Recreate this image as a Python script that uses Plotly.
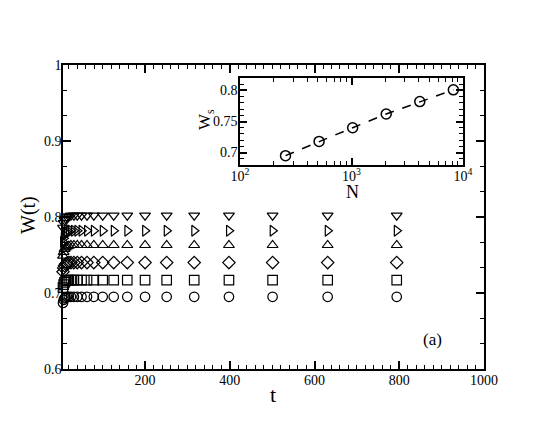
import plotly.graph_objects as go

# ---------------- data ----------------
t_vals = [5, 6.3, 7.9, 10, 12.6, 15.8, 20, 25, 32, 40, 50, 63, 79, 100, 126, 158,
          200, 251, 316, 398, 501, 631, 794]

w_circle = [0.676, 0.687, 0.691, 0.693, 0.694, 0.695, 0.695, 0.695, 0.695, 0.695,
            0.695, 0.695, 0.695, 0.695, 0.695, 0.695, 0.695, 0.695, 0.695, 0.695,
            0.695, 0.695, 0.695]
w_square = [0.700, 0.707, 0.711, 0.714, 0.716, 0.717, 0.717, 0.717, 0.717, 0.717,
            0.717, 0.717, 0.717, 0.717, 0.717, 0.717, 0.717, 0.717, 0.717, 0.717,
            0.717, 0.717, 0.717]
w_diamond = [0.722, 0.728, 0.733, 0.736, 0.738, 0.739, 0.740, 0.740, 0.740, 0.740,
             0.740, 0.740, 0.740, 0.740, 0.740, 0.740, 0.740, 0.740, 0.740, 0.740,
             0.740, 0.740, 0.740]
w_triup = [0.742, 0.749, 0.754, 0.758, 0.760, 0.761, 0.762, 0.763, 0.763, 0.763,
           0.763, 0.763, 0.763, 0.763, 0.763, 0.763, 0.763, 0.763, 0.763, 0.763,
           0.763, 0.763, 0.763]
w_triright = [0.760, 0.767, 0.772, 0.776, 0.779, 0.780, 0.781, 0.782, 0.782, 0.782,
              0.782, 0.782, 0.782, 0.782, 0.782, 0.782, 0.782, 0.782, 0.782, 0.782,
              0.782, 0.782, 0.782]
w_tridown = [0.778, 0.786, 0.792, 0.796, 0.798, 0.800, 0.801, 0.802, 0.802, 0.802,
             0.802, 0.802, 0.802, 0.802, 0.802, 0.802, 0.802, 0.802, 0.802, 0.802,
             0.802, 0.802, 0.802]

series = [
    ("N=256", w_circle, "circle-open"),
    ("N=512", w_square, "square-open"),
    ("N=1024", w_diamond, "diamond-open"),
    ("N=2048", w_triup, "triangle-up-open"),
    ("N=4096", w_triright, "triangle-right-open"),
    ("N=8192", w_tridown, "triangle-down-open"),
]

inset_N = [256, 512, 1024, 2048, 4096, 8192]
inset_Ws = [0.695, 0.718, 0.740, 0.762, 0.782, 0.801]

main_xticks = [200, 400, 600, 800, 1000]
main_yticks = [0.6, 0.7, 0.8, 0.9, 1.0]
main_yticktext = ["0.6", "0.7", "0.8", "0.9", "1"]
inset_xticks = [100, 1000, 10000]
inset_xticktext = ["10<sup>2</sup>", "10<sup>3</sup>", "10<sup>4</sup>"]
inset_yticks = [0.7, 0.75, 0.8]
inset_yticktext = ["0.7", "0.75", "0.8"]
inset_xminor = [m * 10 ** e for e in (2, 3) for m in range(2, 10)]

# ---------------- figure ----------------
OFF = 8  # page body margin of the html page
W, H = 545 - OFF, 436 - OFF
FONT = "Liberation Serif"

fig = go.Figure()

for name, vals, sym in series:
    fig.add_trace(go.Scatter(
        x=t_vals, y=vals, mode="markers", name=name, cliponaxis=False,
        marker=dict(symbol=sym, size=9.5, color="black", line=dict(width=1.2, color="black")),
        xaxis="x", yaxis="y", showlegend=False))

fig.add_trace(go.Scatter(
    x=inset_N, y=inset_Ws, mode="lines+markers",
    line=dict(color="black", width=1.5, dash="dash"),
    marker=dict(symbol="circle-open", size=10, color="black", line=dict(width=1.5, color="black")),
    xaxis="x2", yaxis="y2", showlegend=False))

def px_x(p):
    return (p - OFF) / W

def px_y(p):
    return 1 - (p - OFF) / H

axis_common = dict(showline=True, linecolor="black", linewidth=1.5, mirror="allticks",
                   ticks="inside", tickcolor="black", showgrid=False, zeroline=False,
                   automargin=False,
                   tickfont=dict(family=FONT, size=14, color="black"))

def label(text, x, y, size, angle=0):
    return dict(text=text, x=px_x(x), y=px_y(y), xref="paper", yref="paper",
                xanchor="center", yanchor="middle", showarrow=False, textangle=angle,
                font=dict(family=FONT, size=size, color="black"))

fig.update_layout(
    template="none",
    width=W, height=H,
    margin=dict(l=0, r=0, t=0, b=0, autoexpand=False),
    paper_bgcolor="white", plot_bgcolor="white",
    font=dict(family=FONT, color="black"),
    xaxis=dict(domain=[px_x(63), px_x(484)], range=[6.3, 1000], anchor="y",
               tickmode="array", tickvals=main_xticks, ticklen=8, tickwidth=1.5,
               ticklabelstandoff=-3,
               minor=dict(ticks="inside", ticklen=4, dtick=20, tick0=0, tickcolor="black", tickwidth=1),
               **axis_common),
    yaxis=dict(domain=[px_y(369), px_y(65)], range=[0.6, 1.0], anchor="x",
               tickmode="array", tickvals=main_yticks, ticktext=main_yticktext,
               ticklen=8, tickwidth=1.5, ticklabelstandoff=-3,
               minor=dict(ticks="inside", ticklen=4, dtick=0.1 / 3, tick0=0.6, tickcolor="black", tickwidth=1),
               **axis_common),
    xaxis2=dict(domain=[px_x(240), px_x(463)], type="log", range=[2, 4], anchor="y2",
                tickmode="array", tickvals=inset_xticks, ticktext=inset_xticktext,
                ticklen=7, tickwidth=1.5, ticklabelstandoff=-3,
                minor=dict(ticks="inside", ticklen=4, tickmode="array", tickvals=inset_xminor,
                           tickcolor="black", tickwidth=1),
                **axis_common),
    yaxis2=dict(domain=[px_y(165), px_y(78)], range=[0.68, 0.82], anchor="x2",
                tickmode="array", tickvals=inset_yticks, ticktext=inset_yticktext,
                ticklen=7, tickwidth=1.5, ticklabelstandoff=-2,
                minor=dict(ticks="inside", ticklen=4, dtick=0.01, tick0=0.7, tickcolor="black", tickwidth=1),
                **axis_common),
    annotations=[
        label("W(t)", 28, 215, 20, -90),
        label("t", 273, 394, 22),
        label("(a)", 432, 339, 17),
        label("W<sub>s</sub>", 206, 120, 17, -90),
        label("N", 352, 192, 18),
    ],
)

fig.write_html("out.html")
